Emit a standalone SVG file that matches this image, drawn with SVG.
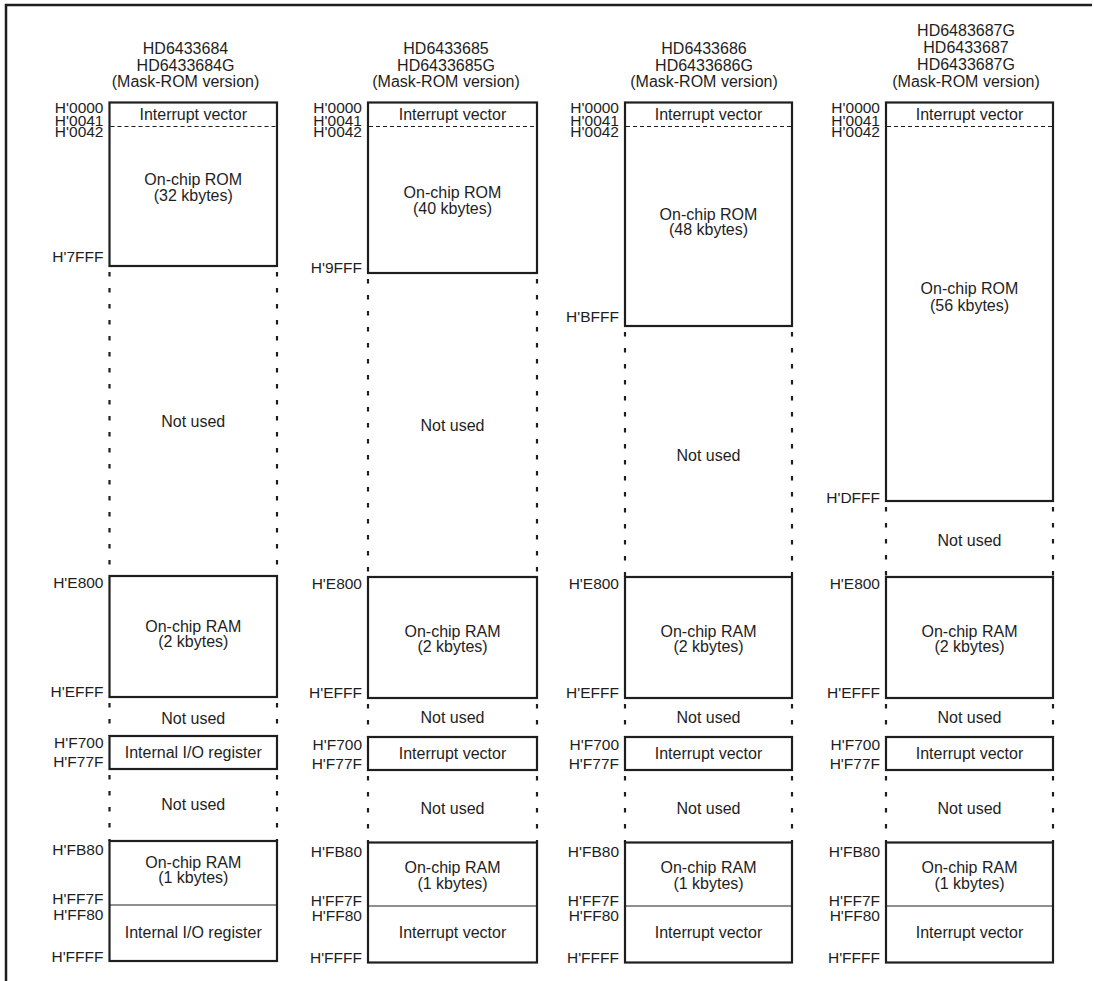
<svg xmlns="http://www.w3.org/2000/svg" width="1094" height="981" viewBox="0 0 1094 981">
<style>
  text{font-family:"Liberation Sans",Arial,Helvetica,sans-serif;fill:#1e1e1e}
  .t{font-size:16px;text-anchor:middle}
  .a{font-size:15.5px;text-anchor:end}
  .box{fill:#fff;stroke:#1e1e1e;stroke-width:2.2}
  .sep{stroke:#1e1e1e;stroke-width:1}
  .dash{stroke:#1e1e1e;stroke-width:1.2;stroke-dasharray:4 3}
  .dot{stroke:#1e1e1e;stroke-width:2.2;stroke-dasharray:4.5 11.5}
  .frame{fill:none;stroke:#1e1e1e;stroke-width:2.5}
</style>
<rect width="1094" height="981" fill="#fff"/>
<path class="frame" d="M6 981V5H1092"/>

<!-- Column 1: HD6433684 -->
<g id="col1" transform="translate(109.5,0)">
  <g id="col1-header">
    <text class="t" x="76" y="54">HD6433684</text>
    <text class="t" x="76" y="70.5">HD6433684G</text>
    <text class="t" x="76" y="87">(Mask-ROM version)</text>
  </g>
  <g id="col1-gaps">
    <line class="dot" x1="0" y1="272" x2="0" y2="576"/><line class="dot" x1="167.5" y1="272" x2="167.5" y2="576"/>
    <line class="dot" x1="0" y1="703" x2="0" y2="736"/><line class="dot" x1="167.5" y1="703" x2="167.5" y2="736"/>
    <line class="dot" x1="0" y1="775" x2="0" y2="841"/><line class="dot" x1="167.5" y1="775" x2="167.5" y2="841"/>
    <text class="t" x="83.75" y="426.5">Not used</text>
    <text class="t" x="83.75" y="724">Not used</text>
    <text class="t" x="83.75" y="810">Not used</text>
  </g>
  <g id="col1-rom">
    <rect class="box" x="0" y="102.5" width="167.5" height="163.5"/>
    <line class="dash" x1="1" y1="126.5" x2="166.5" y2="126.5"/>
    <text class="t" x="83.75" y="119.5">Interrupt vector</text>
    <text class="t" x="83.75" y="185">On-chip ROM</text>
    <text class="t" x="83.75" y="201">(32 kbytes)</text>
    <text class="a" x="-6" y="113">H'0000</text>
    <text class="a" x="-6" y="125.5">H'0041</text>
    <text class="a" x="-6" y="137">H'0042</text>
    <text class="a" x="-6" y="262">H'7FFF</text>
  </g>
  <g id="col1-ram2k">
    <rect class="box" x="0" y="576" width="167.5" height="121"/>
    <text class="t" x="83.75" y="632">On-chip RAM</text>
    <text class="t" x="83.75" y="647">(2 kbytes)</text>
    <text class="a" x="-6" y="588">H'E800</text>
    <text class="a" x="-6" y="696.5">H'EFFF</text>
  </g>
  <g id="col1-io">
    <rect class="box" x="0" y="736" width="167.5" height="33"/>
    <text class="t" x="83.75" y="758">Internal I/O register</text>
    <text class="a" x="-6" y="748">H'F700</text>
    <text class="a" x="-6" y="767">H'F77F</text>
  </g>
  <g id="col1-ram1k">
    <rect class="box" x="0" y="841" width="167.5" height="120"/>
    <line class="sep" x1="0" y1="905" x2="167.5" y2="905"/>
    <text class="t" x="83.75" y="868">On-chip RAM</text>
    <text class="t" x="83.75" y="883">(1 kbytes)</text>
    <text class="t" x="83.75" y="937.5">Internal I/O register</text>
    <text class="a" x="-6" y="855">H'FB80</text>
    <text class="a" x="-6" y="904">H'FF7F</text>
    <text class="a" x="-6" y="920">H'FF80</text>
    <text class="a" x="-6" y="961.5">H'FFFF</text>
  </g>
</g>

<!-- Column 2: HD6433685 -->
<g id="col2" transform="translate(368,0)">
  <g id="col2-header">
    <text class="t" x="78" y="54">HD6433685</text>
    <text class="t" x="78" y="70.5">HD6433685G</text>
    <text class="t" x="78" y="87">(Mask-ROM version)</text>
  </g>
  <g id="col2-gaps">
    <line class="dot" x1="0" y1="279" x2="0" y2="577"/><line class="dot" x1="169" y1="279" x2="169" y2="577"/>
    <line class="dot" x1="0" y1="704" x2="0" y2="737"/><line class="dot" x1="169" y1="704" x2="169" y2="737"/>
    <line class="dot" x1="0" y1="776" x2="0" y2="842.5"/><line class="dot" x1="169" y1="776" x2="169" y2="842.5"/>
    <text class="t" x="84.5" y="431">Not used</text>
    <text class="t" x="84.5" y="723">Not used</text>
    <text class="t" x="84.5" y="813.5">Not used</text>
  </g>
  <g id="col2-rom">
    <rect class="box" x="0" y="102.5" width="169" height="170.5"/>
    <line class="dash" x1="1" y1="126.5" x2="168" y2="126.5"/>
    <text class="t" x="84.5" y="119.5">Interrupt vector</text>
    <text class="t" x="84.5" y="198">On-chip ROM</text>
    <text class="t" x="84.5" y="213.5">(40 kbytes)</text>
    <text class="a" x="-6" y="113">H'0000</text>
    <text class="a" x="-6" y="125.5">H'0041</text>
    <text class="a" x="-6" y="137">H'0042</text>
    <text class="a" x="-6" y="273">H'9FFF</text>
  </g>
  <g id="col2-ram2k">
    <rect class="box" x="0" y="577" width="169" height="121"/>
    <text class="t" x="84.5" y="637">On-chip RAM</text>
    <text class="t" x="84.5" y="652">(2 kbytes)</text>
    <text class="a" x="-6" y="589">H'E800</text>
    <text class="a" x="-6" y="697.5">H'EFFF</text>
  </g>
  <g id="col2-vec">
    <rect class="box" x="0" y="737" width="169" height="33"/>
    <text class="t" x="84.5" y="759">Interrupt vector</text>
    <text class="a" x="-6" y="749.5">H'F700</text>
    <text class="a" x="-6" y="768.5">H'F77F</text>
  </g>
  <g id="col2-ram1k">
    <rect class="box" x="0" y="842.5" width="169" height="120"/>
    <line class="sep" x1="0" y1="906" x2="169" y2="906"/>
    <text class="t" x="84.5" y="873">On-chip RAM</text>
    <text class="t" x="84.5" y="888.5">(1 kbytes)</text>
    <text class="t" x="84.5" y="937.5">Interrupt vector</text>
    <text class="a" x="-6" y="856.5">H'FB80</text>
    <text class="a" x="-6" y="905.5">H'FF7F</text>
    <text class="a" x="-6" y="921">H'FF80</text>
    <text class="a" x="-6" y="963">H'FFFF</text>
  </g>
</g>

<!-- Column 3: HD6433686 -->
<g id="col3" transform="translate(625,0)">
  <g id="col3-header">
    <text class="t" x="79" y="54">HD6433686</text>
    <text class="t" x="79" y="70.5">HD6433686G</text>
    <text class="t" x="79" y="87">(Mask-ROM version)</text>
  </g>
  <g id="col3-gaps">
    <line class="dot" x1="0" y1="332" x2="0" y2="577"/><line class="dot" x1="167" y1="332" x2="167" y2="577"/>
    <line class="dot" x1="0" y1="704" x2="0" y2="737"/><line class="dot" x1="167" y1="704" x2="167" y2="737"/>
    <line class="dot" x1="0" y1="776" x2="0" y2="842.5"/><line class="dot" x1="167" y1="776" x2="167" y2="842.5"/>
    <text class="t" x="83.5" y="461">Not used</text>
    <text class="t" x="83.5" y="723">Not used</text>
    <text class="t" x="83.5" y="813.5">Not used</text>
  </g>
  <g id="col3-rom">
    <rect class="box" x="0" y="102.5" width="167" height="223.5"/>
    <line class="dash" x1="1" y1="126.5" x2="166" y2="126.5"/>
    <text class="t" x="83.5" y="119.5">Interrupt vector</text>
    <text class="t" x="83.5" y="219.5">On-chip ROM</text>
    <text class="t" x="83.5" y="235">(48 kbytes)</text>
    <text class="a" x="-6" y="113">H'0000</text>
    <text class="a" x="-6" y="125.5">H'0041</text>
    <text class="a" x="-6" y="137">H'0042</text>
    <text class="a" x="-6" y="322">H'BFFF</text>
  </g>
  <g id="col3-ram2k">
    <rect class="box" x="0" y="577" width="167" height="121"/>
    <text class="t" x="83.5" y="637">On-chip RAM</text>
    <text class="t" x="83.5" y="652">(2 kbytes)</text>
    <text class="a" x="-6" y="589">H'E800</text>
    <text class="a" x="-6" y="697.5">H'EFFF</text>
  </g>
  <g id="col3-vec">
    <rect class="box" x="0" y="737" width="167" height="33"/>
    <text class="t" x="83.5" y="759">Interrupt vector</text>
    <text class="a" x="-6" y="749.5">H'F700</text>
    <text class="a" x="-6" y="768.5">H'F77F</text>
  </g>
  <g id="col3-ram1k">
    <rect class="box" x="0" y="842.5" width="167" height="120"/>
    <line class="sep" x1="0" y1="906" x2="167" y2="906"/>
    <text class="t" x="83.5" y="873">On-chip RAM</text>
    <text class="t" x="83.5" y="888.5">(1 kbytes)</text>
    <text class="t" x="83.5" y="937.5">Interrupt vector</text>
    <text class="a" x="-6" y="856.5">H'FB80</text>
    <text class="a" x="-6" y="905.5">H'FF7F</text>
    <text class="a" x="-6" y="921">H'FF80</text>
    <text class="a" x="-6" y="963">H'FFFF</text>
  </g>
</g>

<!-- Column 4: HD6483687G / HD6433687 -->
<g id="col4" transform="translate(886,0)">
  <g id="col4-header">
    <text class="t" x="80" y="36">HD6483687G</text>
    <text class="t" x="80" y="53">HD6433687</text>
    <text class="t" x="80" y="70">HD6433687G</text>
    <text class="t" x="80" y="86.5">(Mask-ROM version)</text>
  </g>
  <g id="col4-gaps">
    <line class="dot" x1="0" y1="507" x2="0" y2="577"/><line class="dot" x1="167" y1="507" x2="167" y2="577"/>
    <line class="dot" x1="0" y1="704" x2="0" y2="737"/><line class="dot" x1="167" y1="704" x2="167" y2="737"/>
    <line class="dot" x1="0" y1="776" x2="0" y2="842.5"/><line class="dot" x1="167" y1="776" x2="167" y2="842.5"/>
    <text class="t" x="83.5" y="546">Not used</text>
    <text class="t" x="83.5" y="723">Not used</text>
    <text class="t" x="83.5" y="813.5">Not used</text>
  </g>
  <g id="col4-rom">
    <rect class="box" x="0" y="102.5" width="167" height="398.5"/>
    <line class="dash" x1="1" y1="126.5" x2="166" y2="126.5"/>
    <text class="t" x="83.5" y="119.5">Interrupt vector</text>
    <text class="t" x="83.5" y="294">On-chip ROM</text>
    <text class="t" x="83.5" y="311">(56 kbytes)</text>
    <text class="a" x="-6" y="113">H'0000</text>
    <text class="a" x="-6" y="125.5">H'0041</text>
    <text class="a" x="-6" y="137">H'0042</text>
    <text class="a" x="-6" y="503">H'DFFF</text>
  </g>
  <g id="col4-ram2k">
    <rect class="box" x="0" y="577" width="167" height="121"/>
    <text class="t" x="83.5" y="637">On-chip RAM</text>
    <text class="t" x="83.5" y="652">(2 kbytes)</text>
    <text class="a" x="-6" y="589">H'E800</text>
    <text class="a" x="-6" y="697.5">H'EFFF</text>
  </g>
  <g id="col4-vec">
    <rect class="box" x="0" y="737" width="167" height="33"/>
    <text class="t" x="83.5" y="759">Interrupt vector</text>
    <text class="a" x="-6" y="749.5">H'F700</text>
    <text class="a" x="-6" y="768.5">H'F77F</text>
  </g>
  <g id="col4-ram1k">
    <rect class="box" x="0" y="842.5" width="167" height="120"/>
    <line class="sep" x1="0" y1="906" x2="167" y2="906"/>
    <text class="t" x="83.5" y="873">On-chip RAM</text>
    <text class="t" x="83.5" y="888.5">(1 kbytes)</text>
    <text class="t" x="83.5" y="937.5">Interrupt vector</text>
    <text class="a" x="-6" y="856.5">H'FB80</text>
    <text class="a" x="-6" y="905.5">H'FF7F</text>
    <text class="a" x="-6" y="921">H'FF80</text>
    <text class="a" x="-6" y="963">H'FFFF</text>
  </g>
</g>
</svg>
